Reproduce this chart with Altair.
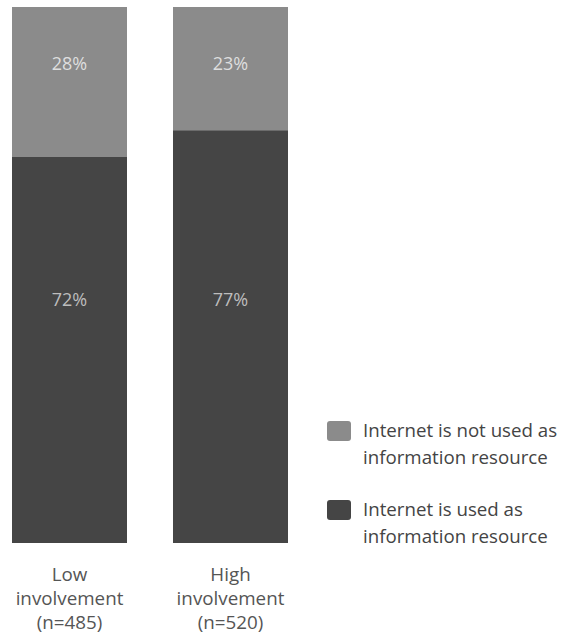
import altair as alt
import pandas as pd

groups = ["Low\ninvolvement\n(n=485)", "High\ninvolvement\n(n=520)"]
status = ["Internet is not used as\ninformation resource",
          "Internet is used as\ninformation resource"]
not_used = [28, 23]
used = [72, 77]

rows = []
for g, a, b in zip(groups, not_used, used):
    rows.append({"group": g, "status": status[0], "pct": a})
    rows.append({"group": g, "status": status[1], "pct": b})
df = pd.DataFrame(rows)

LIGHT = "#8b8b8b"
DARK = "#454545"
FONT = "Open Sans"

rounded = ("M-0.75,-0.83 L0.75,-0.83 Q1,-0.83 1,-0.58 L1,0.58 Q1,0.83 0.75,0.83 "
           "L-0.75,0.83 Q-1,0.83 -1,0.58 L-1,-0.58 Q-1,-0.83 -0.75,-0.83 Z")

x_enc = alt.X("group:N", sort=groups, title=None,
              scale=alt.Scale(paddingInner=0.2857, paddingOuter=0),
              axis=alt.Axis(domain=False, ticks=False, tickSize=0, labelAngle=0,
                            labelExpr="split(datum.value, '\\n')",
                            labelFont=FONT, labelFontSize=18.8, labelColor="#555555",
                            labelLineHeight=24, labelPadding=22.5, labelBaseline="top",
                            labelLimit=300))

used_key = status[1].replace("\n", "\\n")
base = alt.Chart(df).transform_calculate(
    order=f"datum.status == '{used_key}' ? 0 : 1",
    label="datum.pct + '%'",
)

bars = base.mark_bar(stroke=None).encode(
    x=x_enc,
    y=alt.Y("pct:Q", stack="zero", scale=alt.Scale(domain=[0, 100], nice=False), axis=None),
    color=alt.Color("status:N", sort=status,
                    scale=alt.Scale(domain=status, range=[LIGHT, DARK]),
                    legend=alt.Legend(title=None, orient="none", legendX=315, legendY=412,
                                      symbolType=rounded, symbolSize=576, symbolStrokeWidth=0,
                                      labelExpr="split(datum.value, '\\n')",
                                      labelFont=FONT, labelFontSize=18.7, labelColor="#444444",
                                      labelLimit=300, labelOffset=12,
                                      rowPadding=30, padding=0)),
    order=alt.Order("order:Q"),
)

top_labels = base.transform_filter(
    alt.datum.order == 1
).mark_text(font=FONT, fontSize=18, color="#dedede", baseline="middle").encode(
    x=alt.X("group:N", sort=groups),
    y=alt.value(58),
    text=alt.Text("label:N"),
)

bottom_labels = base.transform_filter(
    alt.datum.order == 0
).mark_text(font=FONT, fontSize=18, color="#bdbdbd", baseline="middle").encode(
    x=alt.X("group:N", sort=groups),
    y=alt.value(294),
    text=alt.Text("label:N"),
)

chart = alt.layer(bars, top_labels, bottom_labels).properties(
    width=276, height=536,
    autosize=alt.AutoSizeParams(type="none"),
    padding={"left": 12, "top": 7, "right": 277, "bottom": 96},
).configure(
    background="white",
    style={"guide-label": {"lineHeight": 27}},
).configure_view(stroke=None)

chart.save("out.html", embed_options={"renderer": "svg", "actions": False})
